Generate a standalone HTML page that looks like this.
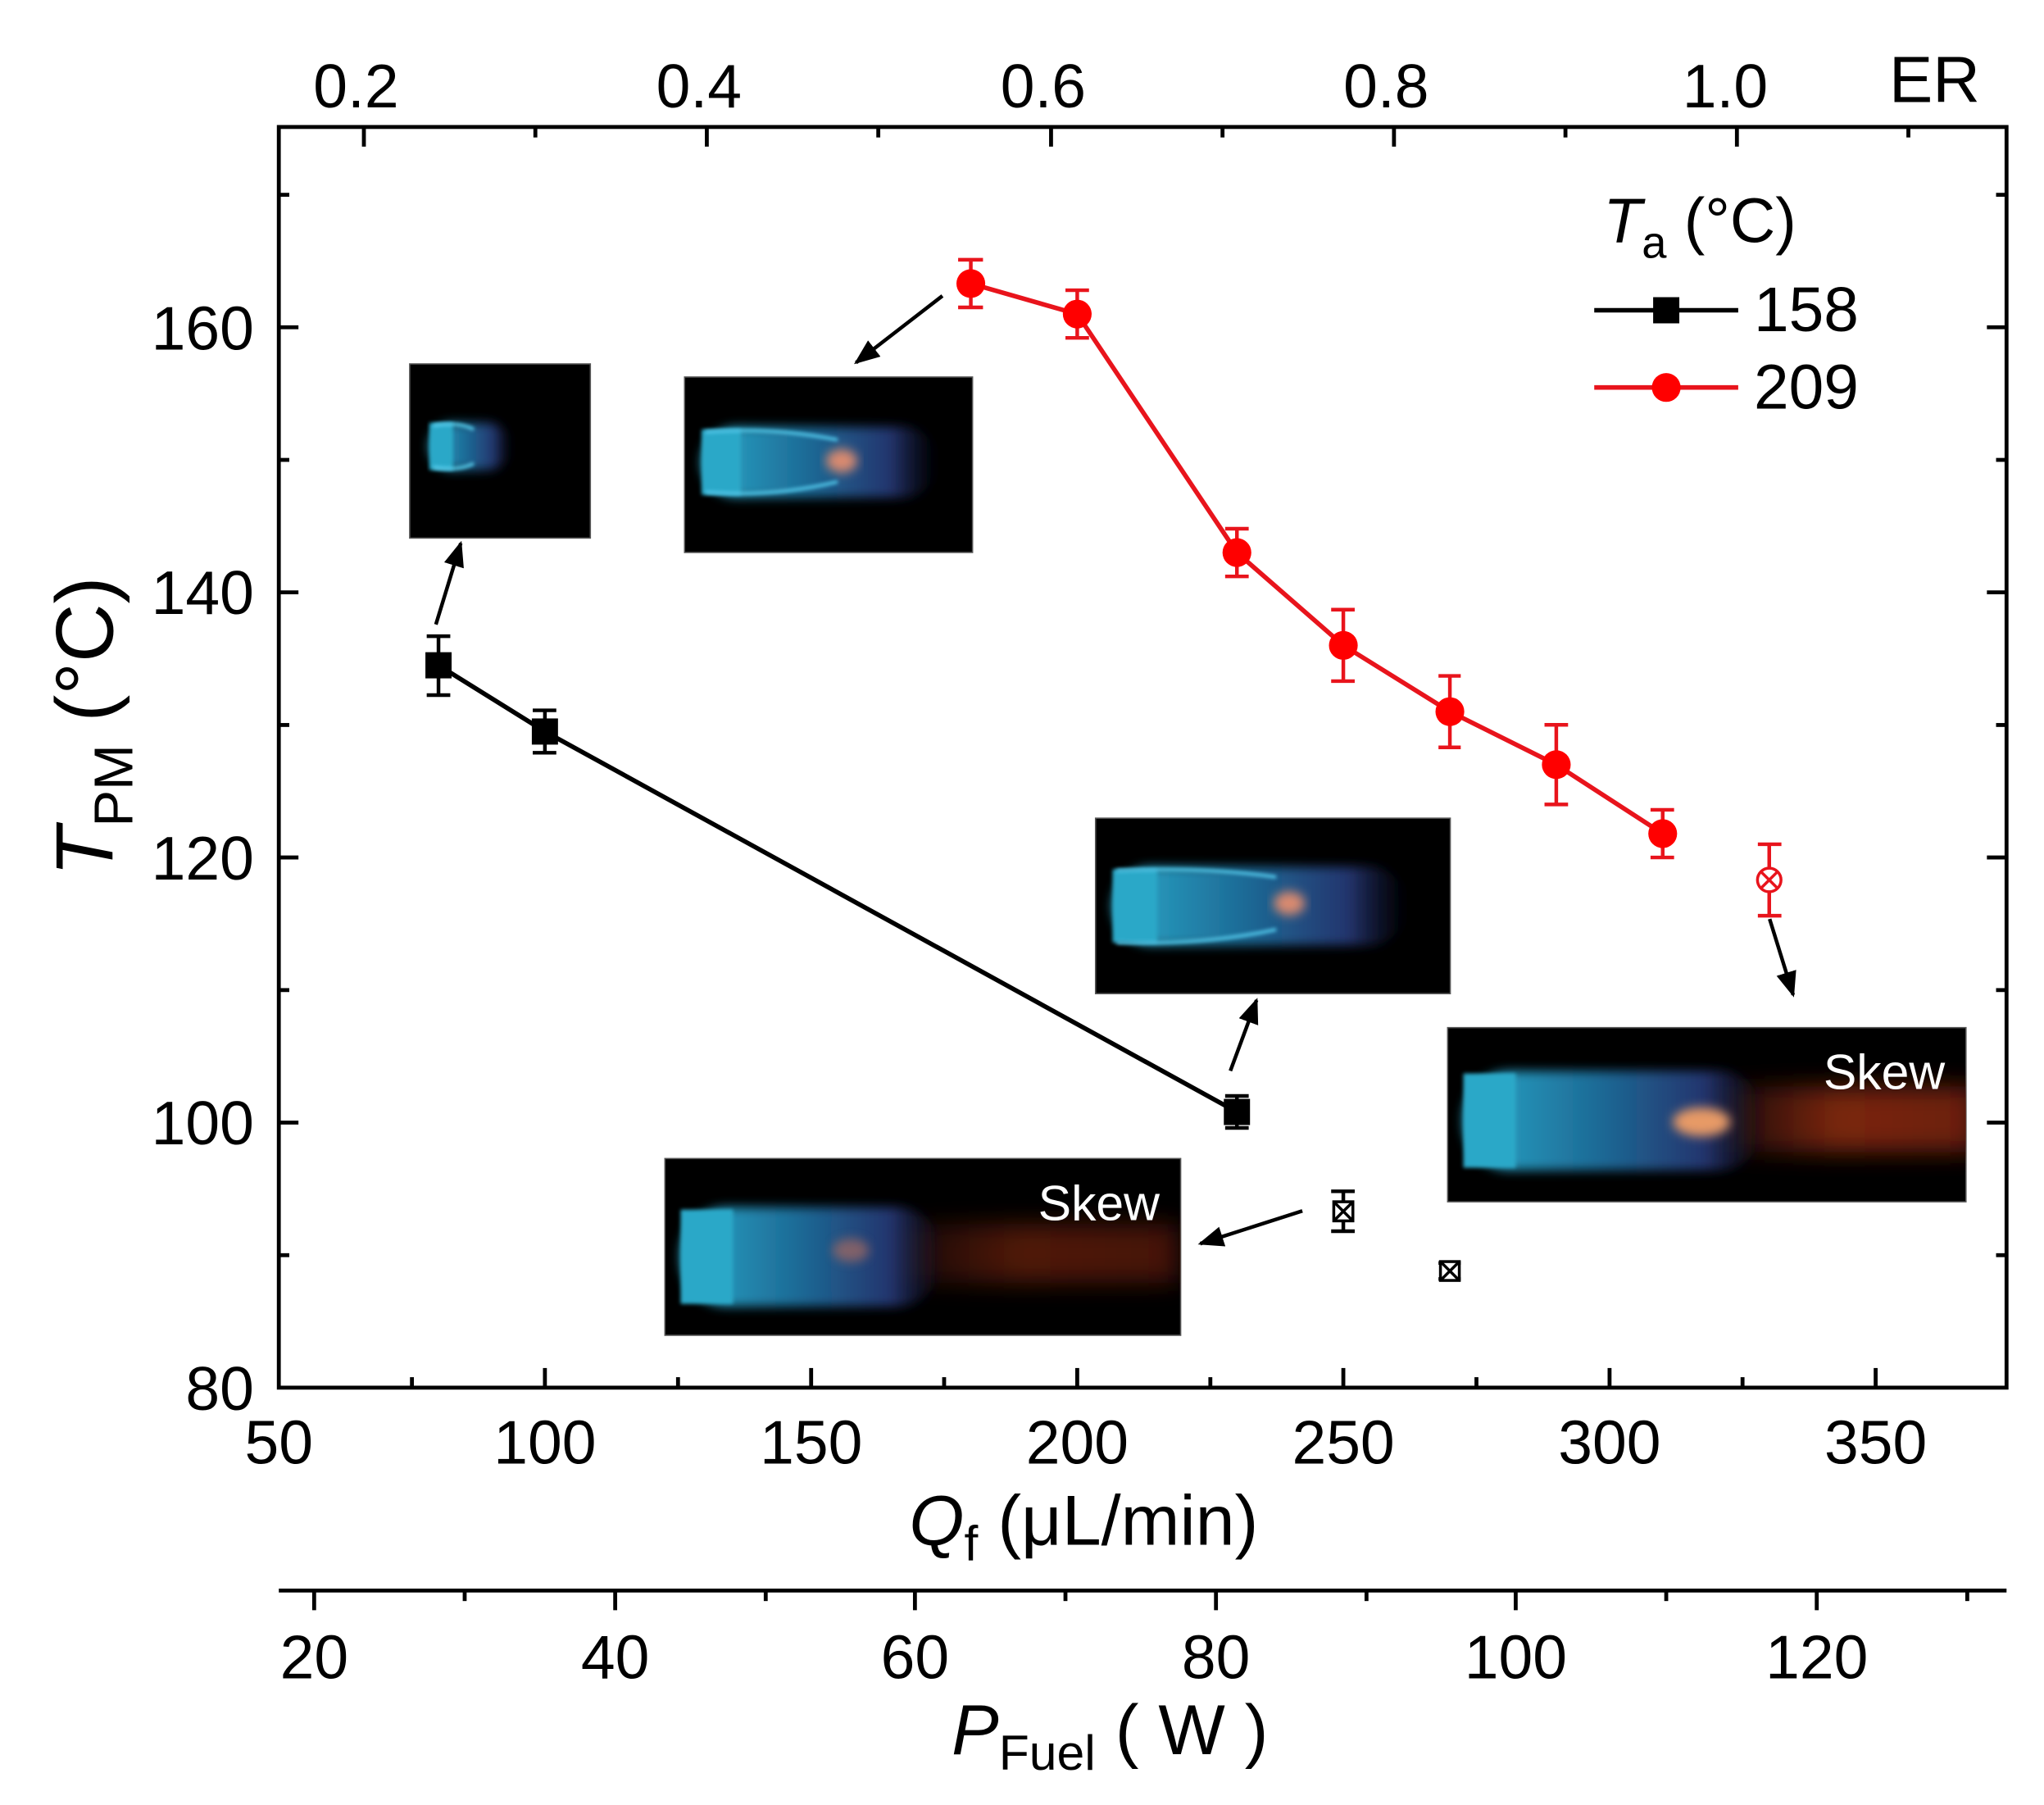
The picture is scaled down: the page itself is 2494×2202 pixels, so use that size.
<!DOCTYPE html>
<html><head><meta charset="utf-8"><style>
html,body{margin:0;padding:0;background:#fff;}
svg{display:block;}
text{font-family:"Liberation Sans",Arial,sans-serif;fill:#000;}
</style></head><body>
<svg width="2494" height="2202" viewBox="0 0 1561.6 1378.8" xmlns="http://www.w3.org/2000/svg">
<defs>
<filter id="b4" x="-20%" y="-50%" width="140%" height="200%"><feGaussianBlur stdDeviation="4"/></filter>
<filter id="b8" x="-30%" y="-80%" width="160%" height="260%"><feGaussianBlur stdDeviation="9"/></filter>
<filter id="b2"><feGaussianBlur stdDeviation="1.5"/></filter>
<linearGradient id="flm" x1="0" x2="1" y1="0" y2="0">
<stop offset="0" stop-color="#2aa8c8"/><stop offset="0.45" stop-color="#1d6a96"/><stop offset="0.8" stop-color="#24356e"/><stop offset="1" stop-color="#151a40" stop-opacity="0"/>
</linearGradient>
<linearGradient id="red" x1="0" x2="1"><stop offset="0" stop-color="#8a2a10" stop-opacity="0"/><stop offset="0.5" stop-color="#7a2610"/><stop offset="1" stop-color="#6a1e0a"/></linearGradient>
<clipPath id="c1"><rect x="313" y="278" width="138" height="133"/></clipPath>
<clipPath id="c2"><rect x="523" y="288" width="220" height="134"/></clipPath>
<clipPath id="c3"><rect x="837" y="625" width="271" height="134"/></clipPath>
<clipPath id="c4"><rect x="1106" y="785" width="396" height="133"/></clipPath>
<clipPath id="c5"><rect x="508" y="885" width="394" height="135"/></clipPath>
<marker id="ah" viewBox="0 0 10 10" refX="9" refY="5" markerWidth="7" markerHeight="7" orient="auto"><path d="M0,1 L10,5 L0,9 Z" fill="#000"/></marker>
</defs>

<!-- insets -->
<rect x="313" y="278" width="138" height="133" fill="#000" stroke="#555" stroke-width="1"/>
<g clip-path="url(#c1)">
<rect x="328" y="323" width="62" height="36" rx="18" fill="url(#flm)" filter="url(#b4)"/>
<rect x="328" y="323" width="18" height="36" fill="#2aa8c8" filter="url(#b2)"/>
<path d="M330,323 L330,358" stroke="#4fd8ee" stroke-width="5" filter="url(#b2)"/>
<path d="M331,325 Q350,322 362,328 M331,357 Q350,360 362,354" stroke="#5ad0f0" stroke-width="2.5" fill="none" filter="url(#b2)"/>
</g>
<rect x="523" y="288" width="220" height="134" fill="#000" stroke="#555" stroke-width="1"/>
<g clip-path="url(#c2)">
<rect x="536" y="326" width="180" height="54" rx="27" fill="url(#flm)" filter="url(#b4)"/>
<rect x="536" y="328" width="30" height="50" fill="#2aa8c8" filter="url(#b2)"/>
<ellipse cx="643" cy="352" rx="12" ry="9" fill="#d98a70" filter="url(#b4)"/>
<path d="M538,329 L538,378" stroke="#4fd8ee" stroke-width="5" filter="url(#b2)"/>
<path d="M539,330 Q590,326 640,336 M539,376 Q590,380 640,368" stroke="#52c8ea" stroke-width="2.5" fill="none" filter="url(#b2)"/>
</g>
<rect x="837" y="625" width="271" height="134" fill="#000" stroke="#555" stroke-width="1"/>
<g clip-path="url(#c3)">
<rect x="850" y="662" width="225" height="60" rx="30" fill="url(#flm)" filter="url(#b4)"/>
<rect x="850" y="664" width="34" height="56" fill="#2aa8c8" filter="url(#b2)"/>
<ellipse cx="985" cy="690" rx="12" ry="9" fill="#d98a70" filter="url(#b4)"/>
<path d="M852,663 L852,722" stroke="#4fd8ee" stroke-width="5" filter="url(#b2)"/>
<path d="M853,665 Q920,662 975,670 M853,720 Q920,722 975,710" stroke="#52c8ea" stroke-width="2.5" fill="none" filter="url(#b2)"/>
</g>
<rect x="1106" y="785" width="396" height="133" fill="#000" stroke="#555" stroke-width="1"/>
<g clip-path="url(#c4)">
<rect x="1300" y="830" width="210" height="50" fill="url(#red)" filter="url(#b8)"/>
<rect x="1118" y="818" width="230" height="76" rx="36" fill="url(#flm)" filter="url(#b4)"/>
<rect x="1118" y="820" width="40" height="72" fill="#2aa8c8" filter="url(#b2)"/>
<ellipse cx="1300" cy="857" rx="22" ry="11" fill="#e79a66" filter="url(#b4)"/>
<path d="M1121,820 L1121,892" stroke="#4fd8ee" stroke-width="5" filter="url(#b2)"/>
</g>
<text x="1486" y="832" font-size="38" text-anchor="end" style="fill:#fff">Skew</text>
<rect x="508" y="885" width="394" height="135" fill="#000" stroke="#555" stroke-width="1"/>
<g clip-path="url(#c5)">
<rect x="660" y="935" width="240" height="45" fill="url(#red)" filter="url(#b8)" opacity="0.65"/>
<rect x="520" y="922" width="200" height="76" rx="36" fill="url(#flm)" filter="url(#b4)"/>
<rect x="520" y="924" width="40" height="72" fill="#2aa8c8" filter="url(#b2)"/>
<ellipse cx="650" cy="955" rx="14" ry="9" fill="#a86a60" filter="url(#b4)" opacity="0.7"/>
<path d="M523,924 L523,998" stroke="#4fd8ee" stroke-width="5" filter="url(#b2)"/>
</g>
<text x="886" y="932" font-size="38" text-anchor="end" style="fill:#fff">Skew</text>

<!-- arrows -->
<g stroke="#000" stroke-width="2.8" fill="none">
<line x1="333" y1="477" x2="352" y2="415" marker-end="url(#ah)"/>
<line x1="720" y1="226" x2="654" y2="277" marker-end="url(#ah)"/>
<line x1="940" y1="818" x2="960" y2="764" marker-end="url(#ah)"/>
<line x1="1352" y1="702" x2="1370" y2="760" marker-end="url(#ah)"/>
<line x1="995" y1="925" x2="917" y2="950" marker-end="url(#ah)"/>
</g>

<!-- frame -->
<rect x="213" y="97" width="1320" height="963" fill="none" stroke="#000" stroke-width="3"/>
<g stroke="#000" stroke-width="3">
<line x1="416.3" y1="1060" x2="416.3" y2="1045"/><line x1="619.7" y1="1060" x2="619.7" y2="1045"/><line x1="823" y1="1060" x2="823" y2="1045"/><line x1="1026.3" y1="1060" x2="1026.3" y2="1045"/><line x1="1229.7" y1="1060" x2="1229.7" y2="1045"/><line x1="1433" y1="1060" x2="1433" y2="1045"/>
<line x1="314.7" y1="1060" x2="314.7" y2="1052"/><line x1="518" y1="1060" x2="518" y2="1052"/><line x1="721.3" y1="1060" x2="721.3" y2="1052"/><line x1="924.7" y1="1060" x2="924.7" y2="1052"/><line x1="1128" y1="1060" x2="1128" y2="1052"/><line x1="1331.3" y1="1060" x2="1331.3" y2="1052"/>
<line x1="213" y1="857.5" x2="228" y2="857.5"/><line x1="213" y1="655" x2="228" y2="655"/><line x1="213" y1="452.5" x2="228" y2="452.5"/><line x1="213" y1="250" x2="228" y2="250"/>
<line x1="213" y1="958.8" x2="221" y2="958.8"/><line x1="213" y1="756.3" x2="221" y2="756.3"/><line x1="213" y1="553.8" x2="221" y2="553.8"/><line x1="213" y1="351.3" x2="221" y2="351.3"/><line x1="213" y1="148.8" x2="221" y2="148.8"/>
<line x1="1533" y1="857.5" x2="1518" y2="857.5"/><line x1="1533" y1="655" x2="1518" y2="655"/><line x1="1533" y1="452.5" x2="1518" y2="452.5"/><line x1="1533" y1="250" x2="1518" y2="250"/>
<line x1="1533" y1="958.8" x2="1525" y2="958.8"/><line x1="1533" y1="756.3" x2="1525" y2="756.3"/><line x1="1533" y1="553.8" x2="1525" y2="553.8"/><line x1="1533" y1="351.3" x2="1525" y2="351.3"/><line x1="1533" y1="148.8" x2="1525" y2="148.8"/>
<line x1="278" y1="97" x2="278" y2="112"/><line x1="540" y1="97" x2="540" y2="112"/><line x1="803" y1="97" x2="803" y2="112"/><line x1="1065" y1="97" x2="1065" y2="112"/><line x1="1327" y1="97" x2="1327" y2="112"/>
<line x1="409" y1="97" x2="409" y2="105"/><line x1="671" y1="97" x2="671" y2="105"/><line x1="934" y1="97" x2="934" y2="105"/><line x1="1196" y1="97" x2="1196" y2="105"/><line x1="1458" y1="97" x2="1458" y2="105"/>
<line x1="213" y1="1215" x2="1533" y2="1215"/>
<line x1="240" y1="1215" x2="240" y2="1230"/><line x1="470" y1="1215" x2="470" y2="1230"/><line x1="699" y1="1215" x2="699" y2="1230"/><line x1="929" y1="1215" x2="929" y2="1230"/><line x1="1158" y1="1215" x2="1158" y2="1230"/><line x1="1388" y1="1215" x2="1388" y2="1230"/>
<line x1="355" y1="1215" x2="355" y2="1223"/><line x1="585" y1="1215" x2="585" y2="1223"/><line x1="814" y1="1215" x2="814" y2="1223"/><line x1="1044" y1="1215" x2="1044" y2="1223"/><line x1="1273" y1="1215" x2="1273" y2="1223"/><line x1="1503" y1="1215" x2="1503" y2="1223"/>
</g>

<!-- tick labels -->
<g font-size="47" text-anchor="middle">
<text x="213" y="1118">50</text><text x="416.3" y="1118">100</text><text x="619.7" y="1118">150</text><text x="823" y="1118">200</text><text x="1026.3" y="1118">250</text><text x="1229.7" y="1118">300</text><text x="1433" y="1118">350</text>
<text x="240" y="1282">20</text><text x="470" y="1282">40</text><text x="699" y="1282">60</text><text x="929" y="1282">80</text><text x="1158" y="1282">100</text><text x="1388" y="1282">120</text>
<text x="272" y="82">0.2</text><text x="534" y="82">0.4</text><text x="797" y="82">0.6</text><text x="1059" y="82">0.8</text><text x="1318" y="82">1.0</text>
</g>
<g font-size="47" text-anchor="end">
<text x="194" y="1077">80</text><text x="194" y="874">100</text><text x="194" y="672">120</text><text x="194" y="469">140</text><text x="194" y="267">160</text>
</g>
<text x="1478" y="78" font-size="50" text-anchor="middle">ER</text>

<!-- axis titles -->
<text x="828" y="1180" font-size="54" text-anchor="middle"><tspan font-style="italic">Q</tspan><tspan font-size="38" dy="12">f</tspan><tspan dy="-12"> (μL/min)</tspan></text>
<text x="848" y="1340" font-size="54" text-anchor="middle"><tspan font-style="italic">P</tspan><tspan font-size="38" dy="12">Fuel</tspan><tspan dy="-12"> ( W )</tspan></text>
<text transform="translate(86,555) rotate(-90)" font-size="62" text-anchor="middle"><tspan font-style="italic">T</tspan><tspan font-size="42" dy="15">PM</tspan><tspan dy="-15"> (°C)</tspan></text>

<!-- legend -->
<text x="1225" y="185" font-size="48"><tspan font-style="italic">T</tspan><tspan font-size="34" dy="12">a</tspan><tspan dy="-12"> (°C)</tspan></text>
<line x1="1218" y1="237" x2="1328" y2="237" stroke="#000" stroke-width="3.5"/>
<rect x="1263" y="227" width="20" height="20" fill="#000"/>
<text x="1340" y="253" font-size="48">158</text>
<line x1="1218" y1="296" x2="1328" y2="296" stroke="#e8141c" stroke-width="3.5"/>
<circle cx="1273" cy="296" r="11" fill="#ff0000"/>
<text x="1340" y="312" font-size="48">209</text>

<!-- black series -->
<g stroke="#000" stroke-width="2.8" fill="none">
<polyline points="335,508.2 416.3,558.8 945,849.4" stroke-width="3.5"/>
<path d="M335,486 V531 M326,486 H344 M326,531 H344"/>
<path d="M416.3,542.6 V575 M407,542.6 H425 M407,575 H425"/>
<path d="M945,837.2 V861.6 M936,837.2 H954 M936,861.6 H954"/>
<path d="M1026.3,910 V940.5 M1017,910 H1035 M1017,940.5 H1035"/>
<path d="M1107.7,964.8 V977 M1099,964.8 H1116 M1099,977 H1116"/>
</g>
<rect x="325" y="498.2" width="20" height="20" fill="#000"/>
<rect x="406.3" y="548.8" width="20" height="20" fill="#000"/>
<rect x="935" y="839.4" width="20" height="20" fill="#000"/>
<g stroke="#000" stroke-width="2.2" fill="#fff">
<rect x="1019" y="918" width="14.6" height="14.6"/><path d="M1019,918 L1033.6,932.6 M1033.6,918 L1019,932.6"/>
<rect x="1100.5" y="963.7" width="14.4" height="14.4"/><path d="M1100.5,963.7 L1114.9,978.1 M1114.9,963.7 L1100.5,978.1"/>
</g>

<!-- red series -->
<g stroke="#e8141c" stroke-width="2.8" fill="none">
<polyline points="741.7,216.6 823,239.9 945,422.1 1026.3,493 1107.7,543.6 1189,584.1 1270.3,636.8" stroke-width="3.5"/>
<path d="M741.7,198.4 V234.8 M732,198.4 H751 M732,234.8 H751"/>
<path d="M823,221.7 V258.1 M814,221.7 H832 M814,258.1 H832"/>
<path d="M945,403.9 V440.3 M936,403.9 H954 M936,440.3 H954"/>
<path d="M1026.3,465.7 V520.3 M1017,465.7 H1035 M1017,520.3 H1035"/>
<path d="M1107.7,516.3 V570.9 M1099,516.3 H1116 M1099,570.9 H1116"/>
<path d="M1189,553.7 V614.5 M1180,553.7 H1198 M1180,614.5 H1198"/>
<path d="M1270.3,618.6 V655 M1261,618.6 H1279 M1261,655 H1279"/>
<path d="M1351.7,644.9 V699.5 M1343,644.9 H1361 M1343,699.5 H1361"/>
</g>
<g fill="#ff0000">
<circle cx="741.7" cy="216.6" r="11"/><circle cx="823" cy="239.9" r="11"/><circle cx="945" cy="422.1" r="11"/><circle cx="1026.3" cy="493" r="11"/><circle cx="1107.7" cy="543.6" r="11"/><circle cx="1189" cy="584.1" r="11"/><circle cx="1270.3" cy="636.8" r="11"/>
</g>
<g stroke="#e8141c" stroke-width="2.2" fill="#fff">
<circle cx="1351.7" cy="672.2" r="9"/><path d="M1345.3,665.8 L1358.1,678.6 M1358.1,665.8 L1345.3,678.6"/>
</g>
</svg>
</body></html>
